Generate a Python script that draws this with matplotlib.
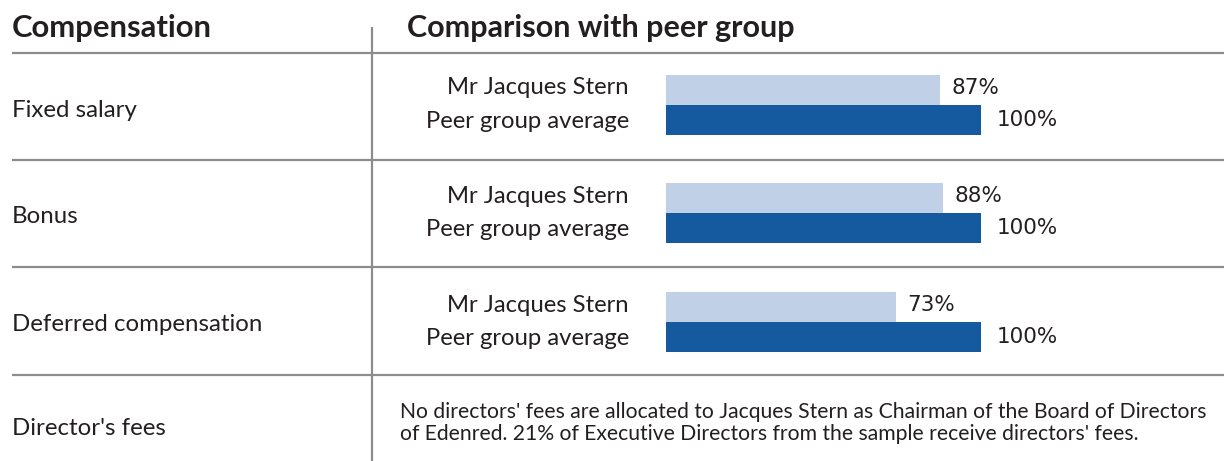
import matplotlib
matplotlib.use("Agg")
import matplotlib.pyplot as plt

# comparaison de la rémunération avec le groupe de pairs
rubriques = ["Fixed salary", "Bonus", "Deferred compensation", "Director's fees"]
series = ["Mr Jacques Stern", "Peer group average"]
stern = [87, 88, 73]
peers = [100, 100, 100]
note = ("No directors' fees are allocated to Jacques Stern as Chairman of the Board of Directors\n"
        "of Edenred. 21% of Executive Directors from the sample receive directors' fees.")

W, H = 1224, 461
txt = "#231f20"
gris = "#8c8c8c"
clair = "#bfd0e7"
fonce = "#155a9f"
police = ["Lato", "DejaVu Sans"]

fig = plt.figure(figsize=(W / 100, H / 100), dpi=100)

# fond en coordonnées pixels pour le tableau
ax = fig.add_axes([0, 0, 1, 1])
ax.set_xlim(0, W)
ax.set_ylim(H, 0)
ax.axis("off")

ax.text(12, 28, "Compensation", fontsize=22.3, fontweight="bold", family=police,
        color=txt, va="center", ha="left")
ax.text(407, 28, "Comparison with peer group", fontsize=22, fontweight="bold",
        family=police, color=txt, va="center", ha="left")

# lignes du tableau
for y in [53, 160, 267, 375]:
    ax.plot([12, W], [y, y], color=gris, lw=1.6, solid_capstyle="butt")
ax.plot([372, 372], [27, H], color=gris, lw=1.6, solid_capstyle="butt")

lignes_y = [110, 216, 324, 428]
for nom, y in zip(rubriques, lignes_y):
    ax.text(12, y, nom, fontsize=17.3, family=police, color=txt, va="center", ha="left")

ax.text(400, 423, note, fontsize=15.2, family=police, color=txt, va="center",
        ha="left", linespacing=1.1)

# barres : axe 0-100 %
axb = fig.add_axes([666 / W, 0, 315 / W, 1])
axb.set_xlim(0, 100)
axb.set_ylim(H, 0)
axb.axis("off")

haut = 30
centres = [90, 198, 307]
for i, c in enumerate(centres):
    axb.barh(c, stern[i], height=haut, color=clair, left=0)
    axb.barh(c + haut, peers[i], height=haut, color=fonce, left=0)
    axb.text(stern[i] + 3.5, c - 2, "%d%%" % stern[i], fontsize=15.5,
             family="DejaVu Sans", color=txt, va="center", ha="left", clip_on=False)
    axb.text(peers[i] + 5, c + haut, "%d%%" % peers[i], fontsize=15.5,
             family="DejaVu Sans", color=txt, va="center", ha="left", clip_on=False)
    ax.text(629, c - 2, series[0], fontsize=17.2, family=police, color=txt,
            va="center", ha="right")
    ax.text(629, c + haut + 1, series[1], fontsize=17.2, family=police, color=txt,
            va="center", ha="right")

fig.savefig("out.png", dpi=100)
